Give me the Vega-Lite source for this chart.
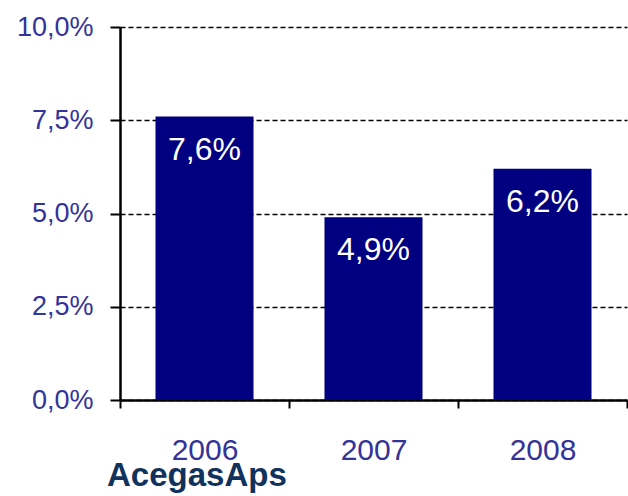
{
  "$schema": "https://vega.github.io/schema/vega-lite/v6.json",
  "width": 507,
  "height": 373,
  "autosize": "none",
  "padding": {"left": 120, "top": 27, "right": 1, "bottom": 96},
  "background": "white",
  "config": {
    "view": {"stroke": null},
    "locale": {"number": {"decimal": ",", "thousands": ".", "grouping": [3], "currency": ["", " €"]}}
  },
  "title": {
    "text": "AcegasAps",
    "orient": "bottom",
    "anchor": "start",
    "frame": "group",
    "dx": -13,
    "offset": -5,
    "font": "Liberation Sans",
    "fontSize": 33,
    "fontWeight": "bold",
    "color": "#12325e",
    "baseline": "top"
  },
  "data": {
    "values": [
      {"year": "2006", "value": 0.076},
      {"year": "2007", "value": 0.049},
      {"year": "2008", "value": 0.062}
    ]
  },
  "encoding": {
    "x": {
      "field": "year",
      "type": "nominal",
      "scale": {"paddingInner": 0, "paddingOuter": 0},
      "axis": {
        "title": null,
        "labelAngle": 0,
        "labelFont": "Liberation Sans",
        "labelFontSize": 30,
        "labelColor": "#333399",
        "labelPadding": 27,
        "tickBand": "extent",
        "tickColor": "black",
        "tickWidth": 2,
        "tickSize": 8,
        "domainColor": "black",
        "domainWidth": 2.5,
        "grid": false
      }
    },
    "y": {
      "field": "value",
      "type": "quantitative",
      "scale": {"domain": [0, 0.1], "nice": false},
      "axis": {
        "title": null,
        "values": [0, 0.025, 0.05, 0.075, 0.1],
        "format": ".1%",
        "labelFont": "Liberation Sans",
        "labelFontSize": 27,
        "labelColor": "#333399",
        "labelPadding": 17,
        "tickColor": "black",
        "tickWidth": 2,
        "tickSize": 10,
        "domainColor": "black",
        "domainWidth": 2.5,
        "grid": true,
        "gridColor": "black",
        "gridWidth": 1.5,
        "gridDash": [5, 3],
        "gridOpacity": 1
      }
    }
  },
  "layer": [
    {
      "mark": {"type": "bar", "color": "#000080", "width": {"band": 0.58}}
    },
    {
      "mark": {
        "type": "text",
        "color": "white",
        "font": "Liberation Sans",
        "fontSize": 32,
        "baseline": "top",
        "dy": 18
      },
      "encoding": {
        "text": {"field": "value", "type": "quantitative", "format": ".1%"}
      }
    }
  ]
}
